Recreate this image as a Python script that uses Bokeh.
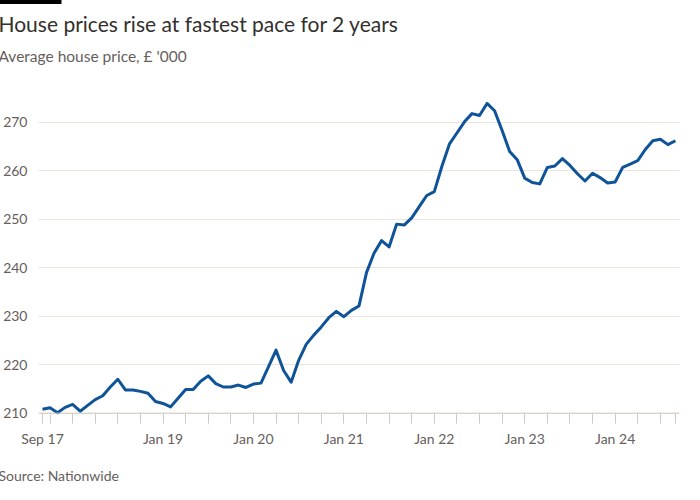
from bokeh.plotting import figure
from bokeh.models import FixedTicker, Title, Span, ColumnDataSource, Range1d
from bokeh.embed import file_html
from bokeh.resources import INLINE

# Monthly average house price (£ '000), Sep 2017 .. Sep 2024 (Nationwide)
month_labels = [f"{m} {y}" for y in range(2017, 2025) for m in
                ["Jan", "Feb", "Mar", "Apr", "May", "Jun", "Jul", "Aug", "Sep", "Oct", "Nov", "Dec"]][8:8 + 85]
prices = [
    210.8, 211.1, 210.1, 211.2,                                                  # 2017 Sep-Dec
    211.8, 210.4, 211.6, 212.8, 213.6, 215.4, 217.0, 214.8, 214.8, 214.5, 214.1, 212.4,  # 2018
    212.0, 211.3, 213.1, 214.9, 214.9, 216.6, 217.7, 216.1, 215.4, 215.4, 215.8, 215.3,  # 2019
    216.0, 216.2, 219.6, 223.0, 218.8, 216.4, 220.9, 224.2, 226.1, 227.8, 229.7, 231.0,  # 2020
    229.9, 231.2, 232.1, 239.0, 243.0, 245.6, 244.3, 249.0, 248.8, 250.3, 252.6, 254.9,  # 2021
    255.7, 260.9, 265.5, 267.8, 270.1, 271.8, 271.4, 273.9, 272.4, 268.3, 264.0, 262.3,  # 2022
    258.5, 257.6, 257.3, 260.7, 261.0, 262.5, 261.1, 259.4, 257.9, 259.5, 258.6, 257.5,  # 2023
    257.7, 260.7, 261.4, 262.1, 264.4, 266.2, 266.5, 265.4, 266.2,                    # 2024 Jan-Sep
]
month_index = list(range(len(prices)))

y_ticks = [210, 220, 230, 240, 250, 260, 270]
x_tick_positions = [0, 1, 4, 7, 10, 13, 16, 19, 22, 25, 28, 31, 34, 37, 40, 43, 46, 49, 52,
                    55, 58, 61, 64, 67, 70, 73, 76, 79, 82, 84]
x_label_positions = [0, 16, 28, 40, 52, 64, 76]
x_label_texts = ["Sep 17", "Jan 19", "Jan 20", "Jan 21", "Jan 22", "Jan 23", "Jan 24"]

title_text = "House prices rise at fastest pace for 2 years"
subtitle_text = "Average house price, £ '000"
source_text = "Source: Nationwide"

FONT = "Lato"
DARK = "#33302e"
MUTED = "#66605c"
GRID = "#ece3da"
AXIS = "#d2c8bf"
BLUE = "#0f5499"

src = ColumnDataSource(dict(x=month_index, y=prices, label=month_labels))

p = figure(width=700, height=500, output_backend="svg", toolbar_location=None, title=None,
           x_range=Range1d(-0.528, 84.54), y_range=Range1d(209.52, 281.52),
           min_border_left=35, min_border_right=21, min_border_top=0, min_border_bottom=85)
p.background_fill_color = "white"
p.border_fill_color = "white"
p.outline_line_color = None

p.line("x", "y", source=src, line_color=BLUE, line_width=3, line_join="round")

# y axis
p.yaxis.ticker = FixedTicker(ticks=y_ticks)
p.yaxis.axis_line_color = None
p.yaxis.major_tick_line_color = None
p.yaxis.minor_tick_line_color = None
p.yaxis.major_label_standoff = 5
p.yaxis.major_label_text_font = FONT
p.yaxis.major_label_text_font_size = "14px"
p.yaxis.major_label_text_color = MUTED
p.ygrid.ticker = FixedTicker(ticks=y_ticks)
p.ygrid.grid_line_color = GRID
p.ygrid.grid_line_width = 1
p.xgrid.grid_line_color = None

# x axis
p.xaxis.ticker = FixedTicker(ticks=x_tick_positions)
overrides = {t: "" for t in x_tick_positions}
for t, s in zip(x_label_positions, x_label_texts):
    overrides[t] = s
p.xaxis.major_label_overrides = overrides
p.xaxis.axis_line_color = None
p.xaxis.major_tick_line_color = AXIS
p.xaxis.major_tick_in = 2
p.xaxis.major_tick_out = 8
p.xaxis.minor_tick_line_color = None
p.xaxis.major_label_standoff = 6
p.xaxis.major_label_text_font = FONT
p.xaxis.major_label_text_font_size = "14px"
p.xaxis.major_label_text_color = MUTED

p.add_layout(Span(location=210, dimension="width", line_color=AXIS, line_width=1))

# header / footer (titles added first sit nearest the frame)
p.add_layout(Title(text=subtitle_text, align="left", offset=-40, text_font=FONT,
                   text_font_size="15.5px", text_font_style="normal", text_color=MUTED,
                   standoff=4), "above")
p.add_layout(Title(text=title_text, align="left", offset=-40, text_font=FONT,
                   text_font_size="21px", text_font_style="normal", text_color=DARK,
                   standoff=14), "above")
p.add_layout(Title(text="\u2003" * 24, align="left", offset=-40, text_font=FONT,
                   text_font_size="3.5px", background_fill_color="black",
                   background_fill_alpha=1, standoff=-5), "above")

p.add_layout(Title(text=source_text, align="left", offset=-40, text_font=FONT,
                   text_font_size="14px", text_font_style="normal", text_color=MUTED,
                   standoff=31), "below")

open("out.html", "w").write(file_html(p, INLINE))
